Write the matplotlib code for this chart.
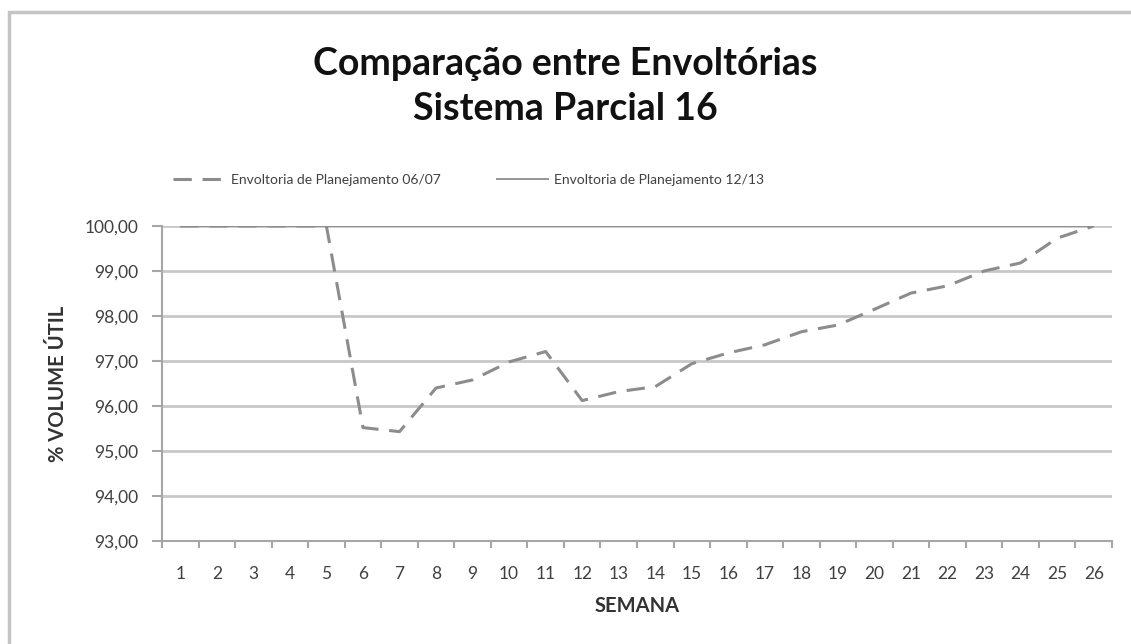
import numpy as np
import matplotlib.pyplot as plt
from matplotlib.patches import Rectangle
from matplotlib.ticker import FuncFormatter

plt.rcParams['font.family'] = ['Lato', 'DejaVu Sans']

# semanas e envoltorias (% volume util)
semanas = list(range(1, 27))
env_0607 = [100.00, 100.00, 100.00, 100.00, 100.00, 95.52, 95.43, 96.40, 96.58, 96.98,
            97.21, 96.12, 96.32, 96.43, 96.94, 97.18, 97.36, 97.65, 97.80, 98.15,
            98.51, 98.67, 99.00, 99.18, 99.73, 100.00]
env_1213 = [100.00] * 26
nomes = ['Envoltoria de Planejamento 06/07', 'Envoltoria de Planejamento 12/13']

fig = plt.figure(figsize=(11.31, 6.44), dpi=100)

# moldura do grafico
fig.patches.append(Rectangle((9 / 1131, -0.05), 1.2, 1 - 12 / 644 + 0.05,
                             transform=fig.transFigure, fill=False,
                             edgecolor='#c4c4c4', linewidth=2.5, zorder=0))

ax = fig.add_axes([162 / 1131, 103 / 644, 950 / 1131, 315 / 644])

ax.plot(semanas, env_1213, color='#8c8c8c', linewidth=1.3, solid_capstyle='butt',
        label=nomes[1], zorder=3)
ax.plot(semanas, env_0607, color='#8c8c8c', linewidth=2.2, linestyle=(0, (6, 3.5)),
        label=nomes[0], zorder=4)

ax.set_xlim(0.5, 26.5)
ax.set_ylim(93, 100)
ax.set_yticks(np.arange(93, 100.5, 1))
ax.yaxis.set_major_formatter(FuncFormatter(lambda v, p: f'{v:.2f}'.replace('.', ',')))
ax.set_xticks(semanas)
ax.set_xticks(np.arange(0.5, 27, 1), minor=True)

ax.grid(axis='y', color='#c8c8c8', linewidth=2)
ax.set_axisbelow(True)
for s in ['top', 'right']:
    ax.spines[s].set_visible(False)
for s in ['left', 'bottom']:
    ax.spines[s].set_color('#a6a6a6')
    ax.spines[s].set_linewidth(1.5)

ax.tick_params(axis='y', length=7, width=1.5, color='#a6a6a6', labelsize=12.5,
               labelcolor='#404040', pad=10)
ax.tick_params(axis='x', which='major', length=0, labelsize=12.5,
               labelcolor='#404040', pad=18)
ax.tick_params(axis='x', which='minor', length=5, width=1.5, color='#a6a6a6')

ax.set_xlabel('SEMANA', fontsize=14.5, fontweight='bold', color='#333333', labelpad=10)
ax.set_ylabel('% VOLUME ÚTIL', fontsize=14.5, fontweight='bold', color='#333333', labelpad=12)

fig.text(0.5, 1 - 75 / 644, 'Comparação entre Envoltórias', ha='center', va='baseline',
         fontsize=27, fontweight='bold', color='#111111')
fig.text(0.5, 1 - 120 / 644, 'Sistema Parcial 16', ha='center', va='baseline',
         fontsize=27, fontweight='bold', color='#111111')

h, l = ax.get_legend_handles_labels()
fig.legend([h[1], h[0]], [l[1], l[0]], loc='center left',
           bbox_to_anchor=(160 / 1131, 1 - 180 / 644),
           ncol=2, frameon=False, fontsize=10, handlelength=3.8, handletextpad=0.4,
           columnspacing=4.0, labelcolor='#404040')

fig.savefig('out.png', dpi=100)
